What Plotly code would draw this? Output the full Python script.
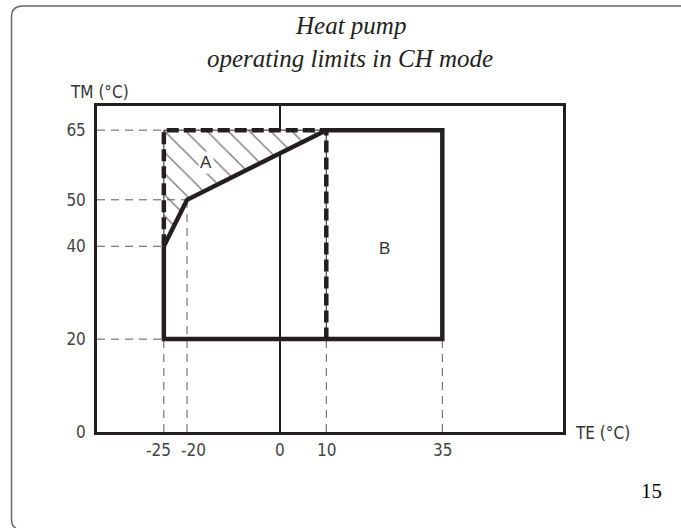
import plotly.graph_objects as go

# axis ticks (deg C)
TE_TICKS = [-25, -20, 0, 10, 35]
TM_TICKS = [0, 20, 40, 50, 65]

# zone A (hatched): lower edge -25/40 -> -20/50 -> 10/65, closed along TM 65
ZONE_A_TE = [-25, -20, 10, -25]
ZONE_A_TM = [40, 50, 65, 65]

# solid outline of zone B plus the A/B boundary
OUTLINE_TE = [-25, -25, 35, 35, 10, -20, -25]
OUTLINE_TM = [40, 20, 20, 65, 65, 50, 40]

# dashed outline of zone A
DASHED_TE = [-25, -25, 10, 10]
DASHED_TM = [40, 65, 65, 20]

# thin guide lines: tick value -> where the guide stops
TM_GUIDE_STOP = {65: -25, 50: -20, 40: -25, 20: -25}
TE_GUIDE_STOP = {-25: 20, -20: 50, 10: 20, 35: 20}

ZONE_LABELS = {"A": (-16, 58), "B": (22.5, 39.5)}

X_RANGE = [-39.4, 61]
Y_RANGE = [0, 70.2]

INK = "#231f20"
GREY = "#5a5a5a"
SANS = "Liberation Sans, Arial, sans-serif"
NARROW = "Liberation Sans Narrow, DejaVu Sans Condensed, Liberation Sans, sans-serif"
SERIF = "Liberation Serif, Times New Roman, serif"

# -25 and -20 are close together, so their labels are pushed apart (px)
TE_LABEL_NUDGE = {-25: -5, -20: 6}

W, H = 681, 528
ML, MR, MT, MB = 97, 118, 106, 96
PW, PH = W - ML - MR, H - MT - MB


def px_x(p):
    return (p - ML) / PW


def px_y(p):
    return (H - MB - p) / PH


fig = go.Figure()

fig.add_trace(go.Scatter(
    x=ZONE_A_TE, y=ZONE_A_TM, fill="toself", mode="lines",
    line=dict(width=0), fillcolor="white",
    fillpattern=dict(shape="\\", size=15, solidity=0.1, fgcolor="black", bgcolor="white"),
    hoverinfo="skip",
))

# guide lines from the frame / x axis to the limits
gx, gy = [], []
for tm, te in TM_GUIDE_STOP.items():
    gx += [X_RANGE[0], te, None]
    gy += [tm, tm, None]
for te, tm in TE_GUIDE_STOP.items():
    gx += [te, te, None]
    gy += [Y_RANGE[0], tm, None]
fig.add_trace(go.Scatter(
    x=gx, y=gy, mode="lines", line=dict(color=GREY, width=1, dash="8px,6px"),
    hoverinfo="skip",
))

fig.add_trace(go.Scatter(
    x=DASHED_TE, y=DASHED_TM, mode="lines", line=dict(color=INK, width=1),
    hoverinfo="skip",
))
fig.add_trace(go.Scatter(
    x=DASHED_TE, y=DASHED_TM, mode="lines",
    line=dict(color=INK, width=4.5, dash="12px,5px"), hoverinfo="skip",
))
fig.add_trace(go.Scatter(
    x=OUTLINE_TE, y=OUTLINE_TM, mode="lines",
    line=dict(color=INK, width=4.5), hoverinfo="skip",
))

for name, (te, tm) in ZONE_LABELS.items():
    fig.add_annotation(
        x=te, y=tm, text=name, showarrow=False, bgcolor="white" if name == "A" else None,
        font=dict(family=SANS, size=17, color="#333"), borderpad=1,
    )

# x tick labels as annotations so the crowded pair can be nudged apart
for te in TE_TICKS:
    fig.add_annotation(
        x=te, y=0, yref="paper", text=str(te), showarrow=False,
        yanchor="middle", yshift=-18, xshift=TE_LABEL_NUDGE.get(te, 0),
        font=dict(family=NARROW, size=17, color="#444"),
    )

# axis titles
fig.add_annotation(x=px_x(68), y=px_y(92), xref="paper", yref="paper", text="TM (°C)",
                   showarrow=False, xanchor="left", yanchor="middle",
                   font=dict(family=NARROW, size=17, color="#333"))
fig.add_annotation(x=px_x(573), y=px_y(433), xref="paper", yref="paper", text="TE (°C)",
                   showarrow=False, xanchor="left", yanchor="middle",
                   font=dict(family=NARROW, size=17, color="#333"))

# title
fig.add_annotation(x=px_x(350), y=px_y(25), xref="paper", yref="paper",
                   text="<i>Heat pump</i>", showarrow=False, yanchor="middle",
                   font=dict(family=SERIF, size=25, color=INK))
fig.add_annotation(x=px_x(350), y=px_y(59), xref="paper", yref="paper",
                   text="<i>operating limits in CH mode</i>", showarrow=False, yanchor="middle",
                   font=dict(family=SERIF, size=25, color=INK))

# page number
fig.add_annotation(x=px_x(664), y=px_y(505), xref="paper", yref="paper", text="15",
                   showarrow=False, font=dict(family=SERIF, size=21, color="black"))

# rounded page border: top edge and left edge only, both run off the page
left, top, right, bottom = px_x(11.5), px_y(6), px_x(681), px_y(530)
rx, ry = 11 / PW, 11 / PH
fig.add_shape(
    type="path", xref="paper", yref="paper", line=dict(color="#666", width=1.5),
    path=(f"M {right},{top} L {left + rx},{top} Q {left},{top} {left},{top - ry} "
          f"L {left},{bottom + ry} Q {left},{bottom} {left + rx},{bottom}"),
)

fig.update_xaxes(
    range=X_RANGE, tickvals=TE_TICKS, showticklabels=False,
    showgrid=False, zeroline=True, zerolinecolor=INK, zerolinewidth=2,
    showline=True, mirror=True, linecolor=INK, linewidth=2.5,
    ticks="", automargin=False,
)
fig.update_yaxes(
    range=Y_RANGE, tickvals=TM_TICKS, ticktext=[str(v) for v in TM_TICKS],
    showgrid=False, zeroline=False,
    showline=True, mirror=True, linecolor=INK, linewidth=2.5,
    ticks="", automargin=False, ticklabelstandoff=5,
    tickfont=dict(family=NARROW, size=17, color="#444"),
)
fig.update_layout(
    width=W, height=H, margin=dict(l=ML, r=MR, t=MT, b=MB),
    paper_bgcolor="white", plot_bgcolor="white", showlegend=False,
)

fig.write_html("out.html", config={"displayModeBar": False},
               post_script="document.body.style.margin = '0';")
